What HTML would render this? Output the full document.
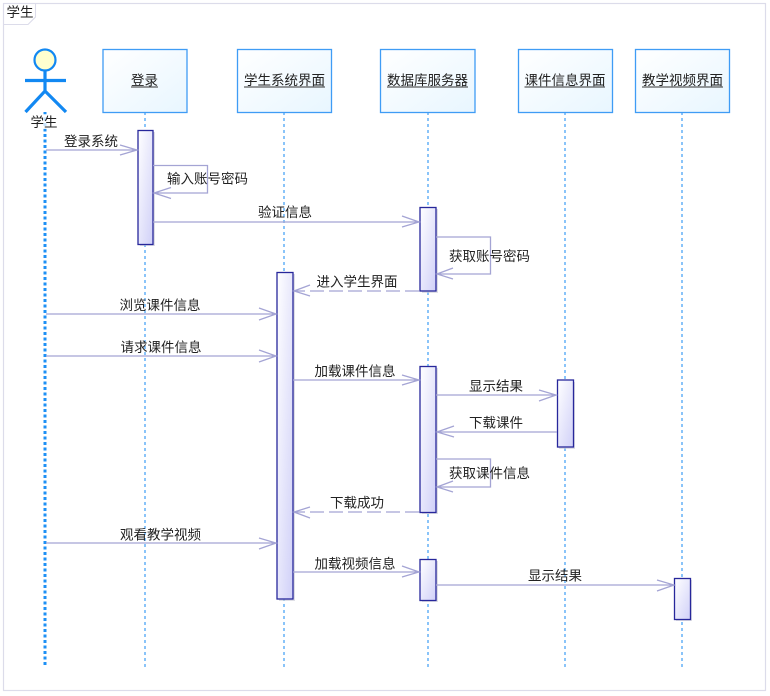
<!DOCTYPE html>
<html><head><meta charset="utf-8">
<style>
html,body{margin:0;padding:0;background:#fff;width:770px;height:696px;overflow:hidden}
svg{display:block}
text{font-family:"Liberation Sans","WenQuanYi Zen Hei","Noto Sans CJK SC",sans-serif;font-size:13.5px;fill:#222;text-anchor:middle}
.ll{stroke:#3d9cf5;stroke-width:1.2;stroke-dasharray:3 3;fill:none}
.box{fill:url(#gb);stroke:#3f9cf5;stroke-width:1.3}
.act{fill:url(#ga);stroke:#27279b;stroke-width:1.3}
.sh{fill:#c9c9d6;opacity:.6}
.m{stroke:#a4a4d4;stroke-width:1.3;fill:none}
.d{stroke-dasharray:14 5}
.u{stroke:#333;stroke-width:1}
</style></head><body>
<svg width="770" height="696" viewBox="0 0 770 696" xmlns="http://www.w3.org/2000/svg">
<defs>
<linearGradient id="gb" x1="0" y1="0" x2="1" y2="1"><stop offset="0" stop-color="#fff"/><stop offset="1" stop-color="#e8f6ff"/></linearGradient>
<linearGradient id="ga" x1="0" y1="0" x2="1" y2="1"><stop offset="0" stop-color="#fff"/><stop offset="1" stop-color="#d0d0f8"/></linearGradient>
</defs>
<rect x="3.5" y="3.5" width="762" height="687" fill="#fff" stroke="#dcdcea" stroke-width="1.2"/>
<path d="M3.5 24.5H28L35.5 17V3.5" fill="#fff" stroke="#dcdcea" stroke-width="1.1"/>
<text x="20" y="17">学生</text>

<!-- lifelines -->
<line x1="45" y1="112" x2="45" y2="667" stroke="#1e90f5" stroke-width="3" stroke-dasharray="3 2.500"/>
<line class="ll" x1="145" y1="112" x2="145" y2="667"/>
<line class="ll" x1="284" y1="112" x2="284" y2="667"/>
<line class="ll" x1="428" y1="112" x2="428" y2="667"/>
<line class="ll" x1="565" y1="112" x2="565" y2="667"/>
<line class="ll" x1="682" y1="112" x2="682" y2="667"/>

<!-- actor -->
<g stroke="#1288f2" stroke-width="3.200" fill="none">
<circle cx="45" cy="60" r="10.500" fill="#ffffcf" stroke-width="2.200"/>
<path d="M45 71V91M25 80.500H66M25.500 112L45 91L66 112"/>
</g>
<rect x="30" y="114" width="30" height="15" fill="#fff" opacity=".75"/>
<text x="44" y="127">学生</text>

<!-- head boxes -->
<rect class="box" x="103" y="49.500" width="84" height="63"/>
<text x="144.500" y="85">登录</text><line class="u" x1="131" x2="158" y1="87" y2="87"/>
<rect class="box" x="237.500" y="49.500" width="94" height="63"/>
<text x="284.500" y="85">学生系统界面</text><line class="u" x1="244" x2="325" y1="87" y2="87"/>
<rect class="box" x="380.500" y="49.500" width="94.500" height="63"/>
<text x="427.500" y="85">数据库服务器</text><line class="u" x1="387" x2="468" y1="87" y2="87"/>
<rect class="box" x="518.500" y="49.500" width="94" height="63"/>
<text x="565" y="85">课件信息界面</text><line class="u" x1="524.500" x2="605" y1="87" y2="87"/>
<rect class="box" x="635.500" y="49.500" width="94" height="63"/>
<text x="682.500" y="85">教学视频界面</text><line class="u" x1="642" x2="723" y1="87" y2="87"/>

<!-- activations -->
<rect class="sh" x="140" y="132" width="15" height="114"/><rect class="act" x="138" y="130.500" width="15" height="114"/>
<rect class="sh" x="279" y="274" width="16" height="327"/><rect class="act" x="277" y="272.500" width="16" height="326.500"/>
<rect class="sh" x="422" y="209" width="16" height="84"/><rect class="act" x="420" y="207.500" width="16" height="83.500"/>
<rect class="sh" x="422" y="368" width="16" height="146"/><rect class="act" x="420" y="366.500" width="16" height="146"/>
<rect class="sh" x="559" y="382" width="16" height="67"/><rect class="act" x="557.500" y="380" width="16" height="67"/>
<rect class="sh" x="422" y="561" width="16" height="41"/><rect class="act" x="420" y="559.500" width="16" height="41"/>
<rect class="sh" x="676" y="580" width="16" height="41"/><rect class="act" x="674.500" y="578.500" width="16" height="41"/>

<!-- messages -->
<path class="m" d="M46 150H137M120 145L137 150L120 155"/>
<text x="91" y="146">登录系统</text>

<path class="m" d="M153 165.500H207.500V193H154M171 187.500L154 193L171 198.500"/>
<text x="207.500" y="183.500">输入账号密码</text>

<path class="m" d="M153 222H419M402 216L419 222L402 227"/>
<text x="285" y="217">验证信息</text>

<path class="m" d="M436 237H490.500V274H437M453 268L437 274L453 279"/>
<text x="489.500" y="261">获取账号密码</text>

<path class="m d" d="M419 291H294"/><path class="m" d="M310 285L294 291L310 296"/>
<text x="357" y="286.500">进入学生界面</text>

<path class="m" d="M46 314H276M259 308L276 314L259 320"/>
<text x="160" y="310">浏览课件信息</text>

<path class="m" d="M46 356H276M259 350L276 356L259 362"/>
<text x="161" y="352">请求课件信息</text>

<path class="m" d="M293 380H419M402 375L419 380L402 385"/>
<text x="355" y="376">加载课件信息</text>

<path class="m" d="M436 395H556M539 390L556 395L539 401"/>
<text x="496" y="391">显示结果</text>

<path class="m" d="M557 432H437M454 426L437 432L454 437"/>
<text x="496" y="427.500">下载课件</text>

<path class="m" d="M436 459H490.500V487H437M453 481L437 487L453 492"/>
<text x="489.500" y="478">获取课件信息</text>

<path class="m d" d="M419 512H294"/><path class="m" d="M310 507L294 512L310 518"/>
<text x="357" y="507.500">下载成功</text>

<path class="m" d="M46 543H276M259 538L276 543L259 549"/>
<text x="160.500" y="539.500">观看教学视频</text>

<path class="m" d="M293 572H419M402 566L419 572L402 577"/>
<text x="355" y="568.500">加载视频信息</text>

<path class="m" d="M436 585H674M657 580L674 585L657 591"/>
<text x="555" y="580.500">显示结果</text>
</svg>
</body></html>
